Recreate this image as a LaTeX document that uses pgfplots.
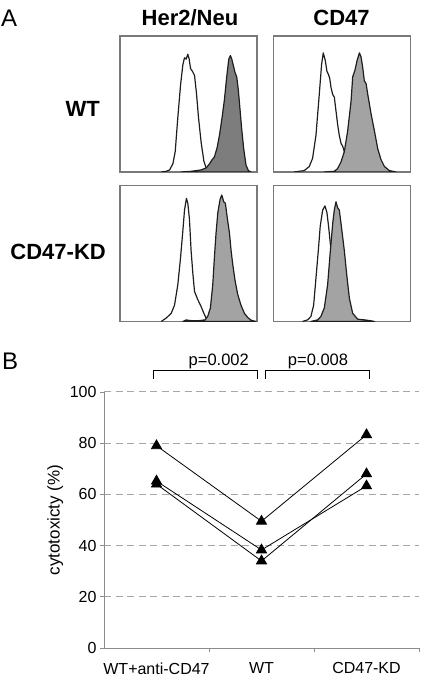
\documentclass[border=0pt]{standalone}
\usepackage{pgfplots}
\pgfplotsset{compat=1.18}
\usepackage{fontspec}
\setmainfont{Liberation Sans}

\definecolor{hdark}{HTML}{7D7D7D}
\definecolor{hlight}{HTML}{A3A3A3}
\definecolor{boxc}{HTML}{7A7A7A}
\definecolor{gridc}{HTML}{A6A6A6}
\definecolor{axc}{HTML}{8C8C8C}
\definecolor{curvec}{HTML}{1E1E1E}

\pgfplotsset{
  histo/.style={scale only axis, width=137pt, height=136pt, anchor=south west,
    xmin=0, xmax=100, ymin=0, ymax=100, xtick=\empty, ytick=\empty,
    axis line style={boxc, line width=1.1pt}},
  opencurve/.style={draw=curvec, line width=1.2pt, no marks, line join=round},
  fillcurve/.style={draw=curvec, line width=1.2pt, no marks, line join=round},
}

\begin{document}
\begin{tikzpicture}[x=1pt,y=1pt]
\useasboundingbox (0,0) rectangle (422,679);

% Panel labels and titles
\node[anchor=base west, inner sep=0pt, font=\fontsize{24}{28}\selectfont] at (1,652) {A};
\node[anchor=base west, inner sep=0pt, font=\fontsize{24}{28}\selectfont] at (2,309) {B};
\node[anchor=base, inner sep=0pt, font=\fontsize{22}{26}\selectfont\bfseries] at (190,653) {Her2/Neu};
\node[anchor=base, inner sep=0pt, font=\fontsize{22}{26}\selectfont\bfseries] at (341.5,653) {CD47};
\node[anchor=base east, inner sep=0pt, font=\fontsize{22}{26}\selectfont\bfseries] at (100,562) {WT};
\node[anchor=base east, inner sep=0pt, font=\fontsize{22}{26}\selectfont\bfseries] at (106,419) {CD47-KD};

% Top-left: Her2/Neu, WT
\begin{axis}[histo, at={(120pt,507pt)}]
\addplot[opencurve] coordinates {(30.1,0) (33.7,0.5) (36.2,1.5) (38.6,6) (40.3,15) (42.2,40) (44.2,64) (45.9,79) (47.1,84) (48.3,83) (49.5,86.6) (50.5,83) (51.5,76) (52.9,74) (54.4,71) (55.8,58) (57.3,40) (59.2,22) (61.2,8) (62.9,3) (65.3,0.5) (68.9,0)};
\addplot[fillcurve, fill=hdark] coordinates {(44.7,0) (51.9,0.5) (59.2,1.5) (62.9,3) (65.3,6) (67.2,9) (68.9,11) (70.9,18) (72.6,27) (74.5,40) (76.2,53) (77.9,70) (79.4,83) (80.6,85.6) (81.6,83) (82.8,78) (84.0,73) (85.2,70) (86.4,60) (87.6,46) (88.8,32) (90.3,17) (92.0,5) (93.7,1) (95.6,0)} \closedcycle;
\end{axis}

% Top-right: CD47, WT
\begin{axis}[histo, at={(273.5pt,507pt)}]
\addplot[opencurve] coordinates {(15.1,0) (22.4,1) (26.1,4) (28.5,10) (31.0,27) (33.4,57) (35.1,79) (36.3,87.6) (37.8,82) (39.0,74) (40.0,72) (41.0,69) (42.0,62) (43.2,57) (44.4,55) (45.6,45) (46.8,35) (48.0,27) (49.3,21) (50.5,19) (51.7,15) (53.7,7) (55.4,2) (57.8,0)};
\addplot[fillcurve, fill=hlight] coordinates {(37.1,0) (44.4,0.5) (46.8,2.5) (49.3,7.5) (51.7,15) (54.1,30) (56.6,52) (57.8,70) (59.5,75) (61.0,82) (62.7,87.6) (63.9,84.6) (65.1,77) (66.3,67) (67.6,65) (68.8,57) (70.0,50) (71.2,42.8) (73.7,30) (76.1,17) (78.5,9) (81.0,4) (84.6,1) (89.5,0)} \closedcycle;
\end{axis}

% Bottom-left: Her2/Neu, CD47-KD
\begin{axis}[histo, at={(120pt,357.5pt)}]
\addplot[opencurve] coordinates {(30.1,0) (33.7,2.5) (37.4,6) (39.8,12) (42.2,27) (44.2,47) (45.9,67) (47.1,82) (48.5,90.5) (49.5,87) (50.7,75) (51.9,52) (53.2,35) (54.4,22) (56.8,16) (59.2,11) (61.2,6) (62.9,2.5) (65.3,0)};
\addplot[fillcurve, fill=hlight] coordinates {(45.9,0) (48.3,1.2) (50.7,0.7) (56.8,0.5) (62.1,1.2) (64.1,4) (66.0,10) (67.7,27) (68.9,47) (70.1,65) (71.4,80) (73.1,90) (74.3,93) (75.7,88) (76.9,87) (78.2,77) (79.9,65) (81.1,52) (82.3,42) (84.0,30) (85.9,20) (88.3,12) (90.8,6) (93.2,3) (95.6,1) (99.3,0)} \closedcycle;
\end{axis}

% Bottom-right: CD47, CD47-KD
\begin{axis}[histo, at={(273.5pt,357.5pt)}]
\addplot[opencurve] coordinates {(21.2,0) (24.9,1.2) (27.3,3.7) (29.3,12) (31.0,32) (32.7,52) (34.1,70) (35.9,82) (37.6,85) (39.0,80) (40.2,70) (41.5,57) (42.4,52) (43.2,40) (44.4,23) (45.6,7.5) (46.8,1.2) (49.3,0)};
\addplot[fillcurve, fill=hlight] coordinates {(27.3,0) (32.2,1.2) (34.6,3.7) (37.1,10) (39.5,27) (41.5,52) (43.2,72) (44.4,82) (45.6,88) (46.8,83.6) (48.0,82) (49.3,72) (50.5,62) (51.7,52) (53.7,32) (55.4,17) (57.8,6) (61.5,1.7) (66.3,1.2) (71.2,0.5) (73.7,0)} \closedcycle;
\end{axis}

% Panel B
\begin{axis}[at={(104pt,31pt)}, anchor=south west, scale only axis,
  width=315pt, height=256pt, clip=false,
  xmin=0, xmax=3, ymin=0, ymax=100,
  axis x line=bottom, axis y line=left,
  axis line style={axc, line width=0.9pt, -},
  xtick={1,2,3}, xticklabels={},
  extra x ticks={0.5,1.5,2.5},
  extra x tick labels={WT+anti-CD47, WT, CD47-KD},
  extra x tick style={major tick length=0pt, grid=none, xticklabel style={yshift=-11pt}},
  ytick={0,20,...,100},
  ymajorgrids,
  major grid style={gridc, dash pattern=on 7pt off 4.5pt, line width=1pt},
  tick align=outside, major tick length=4pt,
  tick style={axc, line width=0.9pt},
  tick label style={font=\fontsize{16}{19}\selectfont},
  /pgf/number format/assume math mode=true,
  ylabel={cytotoxicty (\%)},
  ylabel style={font=\fontsize{17}{20}\selectfont, at={(axis description cs:-0.155,0.5)}, anchor=center},
]
\addplot[black, line width=0.8pt, mark=triangle*, mark size=5.8pt] coordinates {(0.5,79) (1.5,49.5) (2.5,83.3)};
\addplot[black, line width=0.8pt, mark=triangle*, mark size=5.8pt] coordinates {(0.5,65.2) (1.5,38.3) (2.5,63.3)};
\addplot[black, line width=0.8pt, mark=triangle*, mark size=5.8pt] coordinates {(0.5,64) (1.5,34) (2.5,68)};

\draw[black, line width=0.9pt] (axis cs:0.470,105.1) -- (axis cs:0.470,108.6) -- (axis cs:1.460,108.6) -- (axis cs:1.460,105.1);
\draw[black, line width=0.9pt] (axis cs:1.533,105.1) -- (axis cs:1.533,108.6) -- (axis cs:2.527,108.6) -- (axis cs:2.527,105.1);
\node[anchor=base, inner sep=0pt, font=\fontsize{16.5}{19}\selectfont] at (axis cs:1.093,110.2) {p=0.002};
\node[anchor=base, inner sep=0pt, font=\fontsize{16.5}{19}\selectfont] at (axis cs:2.038,110.2) {p=0.008};
\end{axis}
\end{tikzpicture}
\end{document}
